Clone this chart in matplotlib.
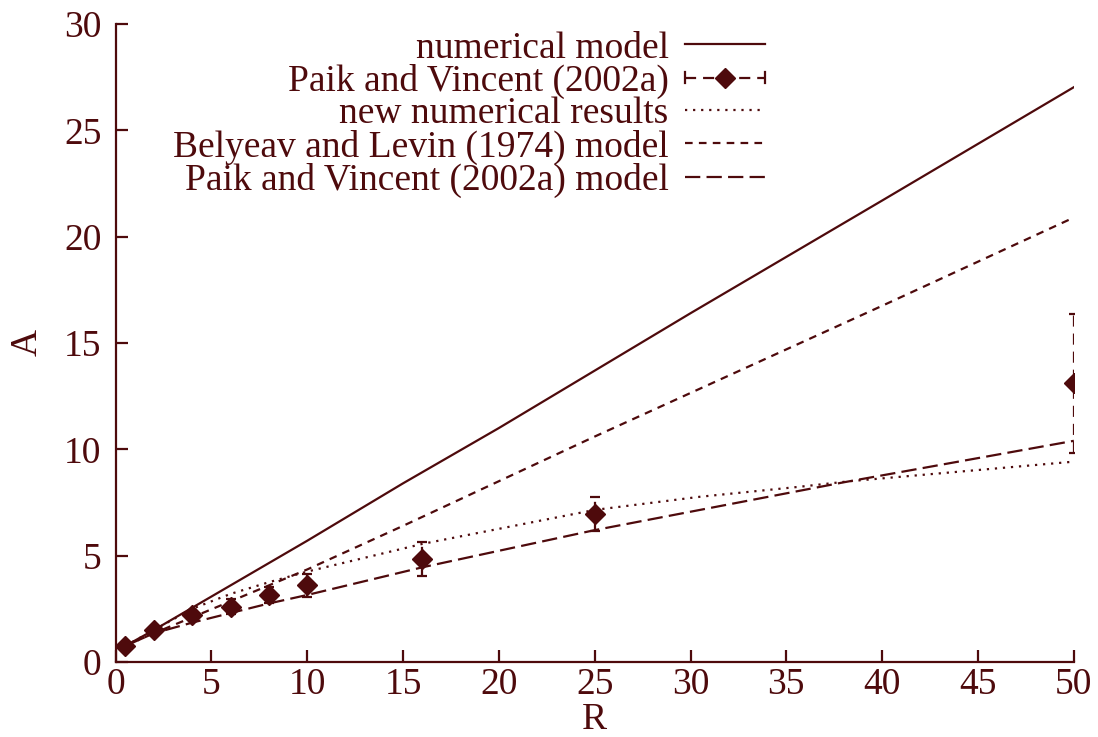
import matplotlib
matplotlib.use("Agg")
import matplotlib.pyplot as plt
from matplotlib.lines import Line2D
from matplotlib.legend_handler import HandlerBase
from matplotlib.container import ErrorbarContainer

plt.rcParams['font.family'] = ['Liberation Serif', 'DejaVu Serif']
plt.rcParams['lines.scale_dashes'] = False

C = '#4e0a0c'

# ---- data ----
R_num = [0.5, 2, 4, 6, 8, 10, 15, 20, 25, 30, 40, 50]
A_num = [0.75, 1.5, 2.55, 3.6, 4.65, 5.7, 8.4, 11.0, 13.7, 16.4, 21.7, 27.03]

R_pv = [0.5, 2, 4, 6, 8, 10, 16, 25, 50]
A_pv = [0.75, 1.5, 2.2, 2.6, 3.15, 3.6, 4.85, 6.95, 13.1]
E_pv = [0.1, 0.1, 0.2, 0.35, 0.37, 0.55, 0.8, 0.8, 3.25]

R_new = [0.5, 2, 4, 6, 8, 10, 16, 25, 30.5, 35.7, 38.3, 50]
A_new = [0.75, 1.5, 2.5, 3.2, 3.75, 4.25, 5.55, 7.15, 7.77, 8.24, 8.5, 9.42]

R_bl = [0.5, 2, 4, 6, 8, 10, 15, 20, 25, 30, 40, 50]
A_bl = [0.75, 1.35, 2.1, 2.85, 3.6, 4.35, 6.4, 8.5, 10.6, 12.65, 16.75, 20.9]

R_pvm = [0.5, 2, 4, 6, 8, 10, 16, 25, 38, 50]
A_pvm = [0.75, 1.35, 1.85, 2.3, 2.75, 3.15, 4.45, 6.2, 8.45, 10.4]

labels = ['numerical model', 'Paik and Vincent (2002a)', 'new numerical results',
          'Belyeav and Levin (1974) model', 'Paik and Vincent (2002a) model']
xticks = [0, 5, 10, 15, 20, 25, 30, 35, 40, 45, 50]
yticks = [0, 5, 10, 15, 20, 25, 30]

LW = 1.6
FS = 27
ERR_DASH = (0, (8, 5))

fig = plt.figure(figsize=(10.98, 7.37), dpi=100)
ax = fig.add_axes([0.1052, 0.1018, 0.8728, 0.8656])

h_num, = ax.plot(R_num, A_num, color=C, lw=LW, ls='-')
eb = ax.errorbar(R_pv, A_pv, yerr=E_pv, fmt='D', color=C, ms=10, ecolor=C,
                 elinewidth=LW, capsize=3.6, capthick=LW, zorder=5)
for lc in eb[2]:
    lc.set_linestyle(ERR_DASH)
h_new, = ax.plot(R_new, A_new, color=C, lw=LW, ls=(0, (1.6, 4.2)))
h_bl, = ax.plot(R_bl, A_bl, color=C, lw=LW, ls=(0, (5.5, 4.5)))
h_pvm, = ax.plot(R_pvm, A_pvm, color=C, lw=LW, ls=(0, (11, 4.5)))


class GnuErrHandler(HandlerBase):
    def create_artists(self, legend, orig_handle, xdescent, ydescent, width,
                       height, fontsize, trans):
        y = height / 2 - ydescent
        x0 = -xdescent
        x1 = -xdescent + width
        ln = Line2D([x0, x1], [y, y], color=C, lw=LW, linestyle=ERR_DASH)
        cl = Line2D([x0, x0], [y - 4, y + 4], color=C, lw=LW)
        cr = Line2D([x1, x1], [y - 4, y + 4], color=C, lw=LW)
        mk = Line2D([(x0 + x1) / 2], [y], marker='D', ms=10, color=C, ls='none')
        arts = [ln, cl, cr, mk]
        for a in arts:
            a.set_transform(trans)
        return arts


leg = ax.legend([h_num, eb, h_new, h_bl, h_pvm], labels,
                handler_map={ErrorbarContainer: GnuErrHandler()},
                loc='upper right', bbox_to_anchor=(0.678, 0.989),
                frameon=False, markerfirst=False, fontsize=FS,
                handlelength=2.13, handletextpad=0.45, labelspacing=-0.05,
                borderpad=0, borderaxespad=0)
for t in leg.get_texts():
    t.set_color(C)

ax.set_xlim(0, 50)
ax.set_ylim(0, 30)
ax.set_xticks(xticks)
ax.set_yticks(yticks)
ax.spines['top'].set_visible(False)
ax.spines['right'].set_visible(False)
for s in ('left', 'bottom'):
    ax.spines[s].set_color(C)
    ax.spines[s].set_linewidth(LW)
ax.tick_params(axis='both', direction='in', length=8.5, width=LW, color=C,
               labelcolor=C, labelsize=FS)
ax.tick_params(axis='x', pad=4)
ax.tick_params(axis='y', pad=10)

ax.set_xlabel('R', fontsize=FS, color=C)
ax.set_ylabel('A', fontsize=FS, color=C)
ax.xaxis.set_label_coords(0.5, -0.064)
ax.yaxis.set_label_coords(-0.074, 0.5)

fig.savefig('out.png', dpi=100)
